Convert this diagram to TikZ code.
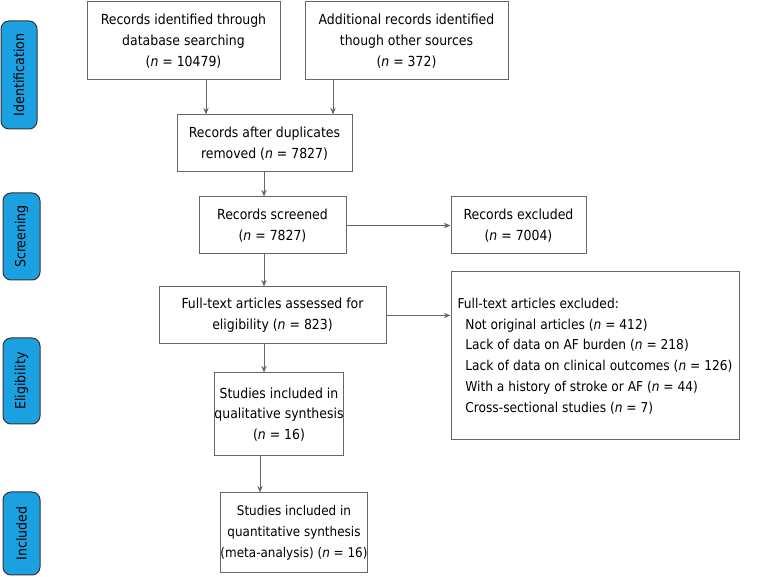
\documentclass[tikz,border=0pt]{standalone}
\usepackage{fontspec}
\setmainfont{DejaVu Sans Condensed}
\usetikzlibrary{arrows.meta}
\definecolor{stageblue}{HTML}{1BA1E2}
\newcommand\pxu{0.75pt}
\tikzset{every picture/.style={line width=0.75pt}}
\tikzset{
  box/.style={draw=black!60, rectangle, inner sep=0pt, align=center, font=\fontsize{10.4}{15.6}\selectfont},
  stage/.style={draw=black!80, fill=stageblue, rounded corners=6pt, inner sep=0pt, rotate=90, font=\fontsize{10.5}{12}\selectfont},
  flow/.style={-{Stealth[length=5pt,width=4pt]}, draw=black!60}
}
\begin{document}
\begin{tikzpicture}[x=0.75pt,y=0.75pt,yscale=-1,xscale=1]
\useasboundingbox (0,0) rectangle (769,577);

% stage labels
\node [stage, minimum width=108*\pxu, minimum height=36*\pxu] (ident) at (19,75) {Identification};
\node [stage, minimum width=87*\pxu, minimum height=37*\pxu] (screen) at (21.5,236.5) {Screening};
\node [stage, minimum width=86*\pxu, minimum height=37*\pxu] (elig) at (21.5,381) {Eligibility};
\node [stage, minimum width=83*\pxu, minimum height=37*\pxu] (incl) at (21.5,533.5) {Included};

% boxes
\node [box, minimum width=193*\pxu, minimum height=78*\pxu] (dbrec) at (183.5,41) {Records identified through\\database searching\\(\textit{n} = 10479)};
\node [box, minimum width=203*\pxu, minimum height=78*\pxu] (othrec) at (406.5,41) {Additional records identified\\though other sources\\(\textit{n} = 372)};
\node [box, minimum width=175*\pxu, minimum height=57*\pxu] (dup) at (264.5,143.5) {Records after duplicates\\removed (\textit{n} = 7827)};
\node [box, minimum width=147*\pxu, minimum height=57*\pxu] (scr) at (272.5,225.5) {Records screened\\(\textit{n} = 7827)};
\node [box, minimum width=135*\pxu, minimum height=57*\pxu] (excl) at (518.5,225.5) {Records excluded\\(\textit{n} = 7004)};
\node [box, minimum width=227*\pxu, minimum height=57*\pxu] (full) at (272.5,315.5) {Full-text articles assessed for\\eligibility (\textit{n} = 823)};
\node [box, minimum width=288*\pxu, minimum height=168*\pxu, align=left, font=\fontsize{10.2}{15.6}\selectfont] (fexcl) at (595,356) {Full-text articles excluded:\\
\ \ Not original articles (\textit{n} = 412)\\
\ \ Lack of data on AF burden (\textit{n} = 218)\\
\ \ Lack of data on clinical outcomes (\textit{n} = 126)\\
\ \ With a history of stroke or AF (\textit{n} = 44)\\
\ \ Cross-sectional studies (\textit{n} = 7)};
\node [box, minimum width=126*\pxu, minimum height=83*\pxu] (qual) at (279,414.5) {Studies included in\\qualitative synthesis\\(\textit{n} = 16)};
\node [box, minimum width=126*\pxu, minimum height=80*\pxu, font=\fontsize{10}{15.6}\selectfont] (quant) at (294,533) {Studies included in\\quantitative synthesis\\(meta-analysis) (\textit{n} = 16)};

% connectors
\draw [flow] (dbrec.south -| 206,0) -- (dup.north -| 206,0);
\draw [flow] (othrec.south -| 333,0) -- (dup.north -| 333,0);
\draw [flow] (dup.south -| 264,0) -- (scr.north -| 264,0);
\draw [flow] (scr.south -| 264,0) -- (full.north -| 264,0);
\draw [flow] (full.south -| 264,0) -- (qual.north -| 264,0);
\draw [flow] (qual.south -| 260,0) -- (quant.north -| 260,0);
\draw [flow] (scr.east) -- (excl.west);
\draw [flow] (full.east) -- (full.east -| fexcl.west);
\end{tikzpicture}
\end{document}
